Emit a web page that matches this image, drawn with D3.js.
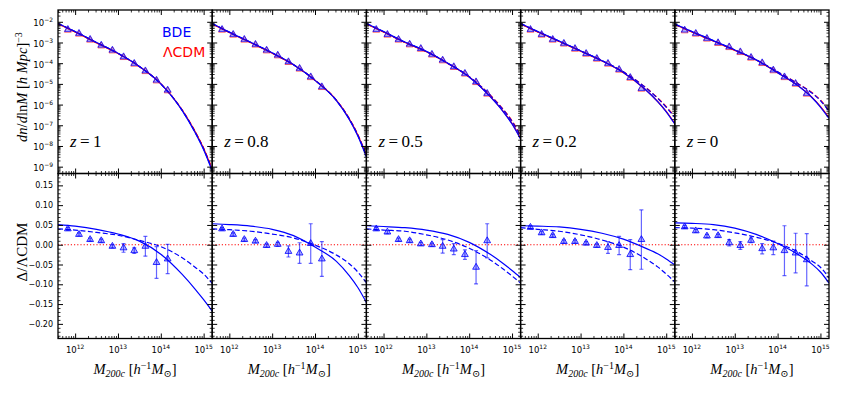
<!DOCTYPE html>
<html>
<head>
<meta charset="utf-8">
<script src="https://cdn.jsdelivr.net/npm/d3@7"></script>
<style>
  body { margin: 0; background: #fff; }
  text { font-family: "DejaVu Sans", sans-serif; }
  .serif { font-family: "Liberation Serif", "DejaVu Serif", serif; }
</style>
</head>
<body>
<svg id="chart" width="843" height="394"></svg>
<script>
  "use strict";

  // ---- data (masses as log10 M, n as log10 dn/dlnM) ----
  const redshiftLabels = ["1", "0.8", "0.5", "0.2", "0"];
  const massBins = [11.83, 12.09, 12.35, 12.61, 12.87, 13.13, 13.38, 13.64, 13.90, 14.16, 14.42, 14.68];
  const curveMass = [11.6, 12.0, 12.5, 13.0, 13.5, 14.0, 14.5, 14.8, 15.0, 15.2];

  // top row: theory curves, one row per redshift panel
  const bdeSolid = [
    [-2.08, -2.47, -3.00, -3.52, -4.16, -5.00, -6.29, -7.35, -8.18, -9.21],
    [-2.08, -2.50, -2.99, -3.50, -4.07, -4.83, -5.81, -6.72, -7.52, -8.54],
    [-2.08, -2.47, -2.98, -3.43, -4.00, -4.67, -5.64, -6.36, -6.94, -7.67],
    [-2.08, -2.47, -2.93, -3.40, -3.88, -4.45, -5.25, -5.86, -6.35, -6.94],
    [-2.11, -2.47, -2.91, -3.36, -3.84, -4.46, -5.13, -5.66, -6.12, -6.67]
  ];
  const lcdmSolid = [
    [-2.10, -2.49, -3.02, -3.53, -4.16, -4.99, -6.26, -7.30, -8.12, -9.13],
    [-2.10, -2.52, -3.01, -3.52, -4.08, -4.83, -5.79, -6.69, -7.47, -8.47],
    [-2.10, -2.49, -3.00, -3.45, -4.01, -4.67, -5.63, -6.34, -6.91, -7.63],
    [-2.10, -2.49, -2.95, -3.42, -3.89, -4.46, -5.25, -5.85, -6.33, -6.92],
    [-2.13, -2.49, -2.93, -3.38, -3.85, -4.46, -5.12, -5.64, -6.09, -6.63]
  ];
  const bdeDashed = [
    [-2.08, -2.47, -3.00, -3.52, -4.16, -5.00, -6.28, -7.33, -8.15, -9.17],
    [-2.08, -2.50, -2.99, -3.50, -4.07, -4.82, -5.80, -6.69, -7.48, -8.48],
    [-2.08, -2.47, -2.98, -3.43, -4.00, -4.65, -5.58, -6.27, -6.82, -7.53],
    [-2.08, -2.47, -2.93, -3.40, -3.87, -4.42, -5.15, -5.70, -6.13, -6.62],
    [-2.11, -2.47, -2.91, -3.36, -3.83, -4.42, -5.03, -5.44, -5.81, -6.34]
  ];
  const lcdmDashed = [
    [-2.10, -2.49, -3.01, -3.53, -4.17, -5.00, -6.26, -7.29, -8.10, -9.11],
    [-2.10, -2.52, -3.00, -3.51, -4.08, -4.82, -5.79, -6.67, -7.45, -8.44],
    [-2.10, -2.49, -3.00, -3.44, -4.01, -4.65, -5.56, -6.24, -6.78, -7.49],
    [-2.10, -2.49, -2.95, -3.41, -3.88, -4.42, -5.14, -5.68, -6.10, -6.58],
    [-2.13, -2.49, -2.93, -3.37, -3.84, -4.42, -5.02, -5.42, -5.78, -6.30]
  ];
  // top row: simulation points
  const simCounts = [
    [-2.37, -2.56, -2.85, -3.13, -3.37, -3.69, -4.01, -4.37, -4.82, -5.30],
    [-2.37, -2.61, -2.85, -3.09, -3.37, -3.61, -3.93, -4.25, -4.66, -5.14],
    [-2.37, -2.61, -2.85, -3.08, -3.29, -3.57, -3.85, -4.17, -4.49, -4.90, -5.46],
    [-2.37, -2.61, -2.85, -3.04, -3.29, -3.53, -3.77, -4.01, -4.30, -4.69, -5.22],
    [-2.40, -2.56, -2.80, -3.01, -3.21, -3.45, -3.72, -3.98, -4.33, -4.66, -4.98, -5.46]
  ];

  // bottom row: relative difference BDE vs LCDM
  const ratioSolid = [
    [0.051, 0.047, 0.039, 0.027, 0.009, -0.024, -0.075, -0.112, -0.139, -0.168],
    [0.053, 0.051, 0.047, 0.039, 0.023, -0.006, -0.042, -0.078, -0.108, -0.146],
    [0.048, 0.046, 0.043, 0.037, 0.026, 0.006, -0.025, -0.048, -0.065, -0.083],
    [0.048, 0.047, 0.045, 0.039, 0.029, 0.014, -0.008, -0.023, -0.036, -0.051],
    [0.055, 0.054, 0.051, 0.042, 0.026, 0.003, -0.026, -0.049, -0.069, -0.097]
  ];
  const ratioDashed = [
    [0.040, 0.037, 0.031, 0.024, 0.011, -0.005, -0.033, -0.057, -0.074, -0.098],
    [0.040, 0.038, 0.034, 0.027, 0.017, -0.001, -0.026, -0.048, -0.069, -0.096],
    [0.040, 0.037, 0.034, 0.025, 0.012, -0.009, -0.039, -0.062, -0.079, -0.097],
    [0.043, 0.039, 0.034, 0.025, 0.012, -0.006, -0.034, -0.056, -0.074, -0.094],
    [0.043, 0.042, 0.038, 0.030, 0.019, 0.004, -0.020, -0.041, -0.057, -0.084]
  ];
  const ratioSim = [
    [0.040, 0.026, 0.013, 0.010, -0.004, -0.008, -0.015, -0.004, -0.045, -0.036],
    [0.040, 0.026, 0.013, 0.009, -0.002, 0.001, -0.017, -0.021, 0.003, -0.036],
    [0.040, 0.032, 0.013, 0.010, 0.002, 0.000, -0.004, -0.011, -0.025, -0.057, 0.010],
    [0.044, 0.030, 0.023, 0.008, 0.008, 0.004, -0.002, -0.007, -0.002, -0.025, 0.013],
    [0.045, 0.035, 0.022, 0.023, 0.005, -0.002, 0.011, -0.010, -0.008, -0.015, -0.021, -0.038]
  ];
  const ratioErr = [
    [0.004, 0.004, 0.004, 0.004, 0.004, 0.011, 0.007, 0.025, 0.040, 0.037],
    [0.004, 0.004, 0.004, 0.004, 0.004, 0.005, 0.014, 0.026, 0.050, 0.044],
    [0.004, 0.004, 0.004, 0.004, 0.004, 0.004, 0.017, 0.014, 0.012, 0.042, 0.043],
    [0.004, 0.004, 0.004, 0.004, 0.004, 0.004, 0.004, 0.015, 0.023, 0.038, 0.075],
    [0.004, 0.004, 0.004, 0.004, 0.008, 0.010, 0.006, 0.013, 0.017, 0.063, 0.050, 0.066]
  ];

  const xMajor = [12, 13, 14, 15];
  const yTopMajor = [-9, -8, -7, -6, -5, -4, -3, -2];
  const yBotMajor = [-0.20, -0.15, -0.10, -0.05, 0.00, 0.05, 0.10, 0.15];

  // ---- layout ----
  const PANEL_LEFT = 58, PANEL_W = 154.2;
  const TOP_Y = 10, MID_Y = 173.5, BOT_Y = 338.5;
  const BLUE = "#0000ff", RED = "#ff0000";

  const svg = d3.select("#chart");

  const xScales = redshiftLabels.map((_, i) => d3.scaleLog()
    .domain([10 ** 11.6, 10 ** 15.2])
    .range([PANEL_LEFT + i * PANEL_W, PANEL_LEFT + (i + 1) * PANEL_W]));
  const yTop = d3.scaleLog().domain([10 ** -9.33, 10 ** -1.43]).range([MID_Y, TOP_Y]);
  const yBot = d3.scaleLinear().domain([-0.237, 0.18]).range([BOT_Y, MID_Y]);

  // minor tick positions
  const xMinor = [];
  for (let k = 11; k <= 15; k++) for (let m = 2; m <= 9; m++) {
    const v = m * 10 ** k;
    if (v > 10 ** 11.6 && v < 10 ** 15.2) xMinor.push(v);
  }
  const yTopMinor = [];
  for (let k = -10; k <= -2; k++) for (let m = 2; m <= 9; m++) {
    const v = m * 10 ** k;
    if (v > 10 ** -9.33 && v < 10 ** -1.43) yTopMinor.push(v);
  }
  const yBotMinor = d3.range(-23, 18).filter(v => v % 5 !== 0).map(v => v / 100);

  const defs = svg.append("defs");
  const tri = d3.symbol().type(d3.symbolTriangle).size(20);

  redshiftLabels.forEach((z, i) => {
    const x = xScales[i];
    const [x0, x1] = x.range();

    // clip paths
    defs.append("clipPath").attr("id", `clipTop${i}`)
      .append("rect").attr("x", x0).attr("y", TOP_Y).attr("width", x1 - x0).attr("height", MID_Y - TOP_Y);
    defs.append("clipPath").attr("id", `clipBot${i}`)
      .append("rect").attr("x", x0).attr("y", MID_Y).attr("width", x1 - x0).attr("height", BOT_Y - MID_Y);

    // ---- top panel: mass function ----
    const top = svg.append("g").attr("clip-path", `url(#clipTop${i})`);
    const lineTop = d3.line()
      .x(d => x(10 ** d[0]))
      .y(d => yTop(10 ** d[1]))
      .curve(d3.curveMonotoneX);
    const series = [
      [lcdmSolid[i], RED, null],
      [lcdmDashed[i], RED, "5,2.5"],
      [bdeSolid[i], BLUE, null],
      [bdeDashed[i], BLUE, "5,2.5"]
    ];
    series.forEach(([vals, col, dash]) => {
      top.append("path")
        .datum(curveMass.map((m, j) => [m, vals[j]]))
        .attr("d", lineTop)
        .attr("fill", "none")
        .attr("stroke", col)
        .attr("stroke-width", 1.2)
        .attr("stroke-dasharray", dash);
    });
    const pts = simCounts[i].map((v, j) => [massBins[j], v]);
    top.selectAll(".simRed")
      .data(pts)
      .enter()
      .append("path")
      .attr("d", tri)
      .attr("transform", d => `translate(${x(10 ** d[0])},${yTop(10 ** d[1]) + 0.8})`)
      .attr("fill", "none")
      .attr("stroke", RED)
      .attr("stroke-opacity", 0.6)
      .attr("stroke-width", 1);
    top.selectAll(".simBlue")
      .data(pts)
      .enter()
      .append("path")
      .attr("d", tri)
      .attr("transform", d => `translate(${x(10 ** d[0])},${yTop(10 ** d[1])})`)
      .attr("fill", BLUE)
      .attr("fill-opacity", 0.3)
      .attr("stroke", BLUE)
      .attr("stroke-opacity", 0.7)
      .attr("stroke-width", 1);

    // ---- bottom panel: ratio ----
    const bot = svg.append("g").attr("clip-path", `url(#clipBot${i})`);
    bot.append("line")
      .attr("x1", x0).attr("x2", x1)
      .attr("y1", yBot(0)).attr("y2", yBot(0))
      .attr("stroke", RED)
      .attr("stroke-width", 1.1)
      .attr("stroke-dasharray", "1.2,2");
    const lineBot = d3.line()
      .x(d => x(10 ** d[0]))
      .y(d => yBot(d[1]))
      .curve(d3.curveMonotoneX);
    [[ratioSolid[i], null], [ratioDashed[i], "5,2.5"]].forEach(([vals, dash]) => {
      bot.append("path")
        .datum(curveMass.map((m, j) => [m, vals[j]]))
        .attr("d", lineBot)
        .attr("fill", "none")
        .attr("stroke", BLUE)
        .attr("stroke-width", 1.2)
        .attr("stroke-dasharray", dash);
    });
    const rpts = ratioSim[i].map((v, j) => ({ m: massBins[j], v: v, e: ratioErr[i][j] }));
    const eb = bot.selectAll(".err")
      .data(rpts)
      .enter()
      .append("g")
      .attr("stroke", BLUE)
      .attr("stroke-opacity", 0.6)
      .attr("stroke-width", 1.2);
    eb.append("line")
      .attr("x1", d => x(10 ** d.m)).attr("x2", d => x(10 ** d.m))
      .attr("y1", d => yBot(d.v - d.e)).attr("y2", d => yBot(d.v + d.e));
    eb.append("line")
      .attr("x1", d => x(10 ** d.m) - 2).attr("x2", d => x(10 ** d.m) + 2)
      .attr("y1", d => yBot(d.v - d.e)).attr("y2", d => yBot(d.v - d.e));
    eb.append("line")
      .attr("x1", d => x(10 ** d.m) - 2).attr("x2", d => x(10 ** d.m) + 2)
      .attr("y1", d => yBot(d.v + d.e)).attr("y2", d => yBot(d.v + d.e));
    bot.selectAll(".ratioPt")
      .data(rpts)
      .enter()
      .append("path")
      .attr("d", tri)
      .attr("transform", d => `translate(${x(10 ** d.m)},${yBot(d.v)})`)
      .attr("fill", BLUE)
      .attr("fill-opacity", 0.3)
      .attr("stroke", BLUE)
      .attr("stroke-opacity", 0.8)
      .attr("stroke-width", 1);

    // ---- frames and inward ticks ----
    [[TOP_Y, MID_Y, yTop, yTopMajor.map(v => 10 ** v), yTopMinor],
     [MID_Y, BOT_Y, yBot, yBotMajor, yBotMinor]].forEach(([ya, yb, y, yMaj, yMin]) => {
      const g = svg.append("g").attr("color", "#000");
      [[xMajor.map(v => 10 ** v), 5, 1], [xMinor, 2.5, 0.8]].forEach(([vals, len, w]) => {
        g.append("g").attr("transform", `translate(0,${yb})`)
          .call(d3.axisBottom(x).tickValues(vals).tickSizeInner(-len).tickSizeOuter(0).tickFormat(""))
          .selectAll("line").attr("stroke-width", w);
        g.append("g").attr("transform", `translate(0,${ya})`)
          .call(d3.axisTop(x).tickValues(vals).tickSizeInner(-len).tickSizeOuter(0).tickFormat(""))
          .selectAll("line").attr("stroke-width", w);
      });
      [[yMaj, 5, 1], [yMin, 2.5, 0.8]].forEach(([vals, len, w]) => {
        g.append("g").attr("transform", `translate(${x0},0)`)
          .call(d3.axisLeft(y).tickValues(vals).tickSizeInner(-len).tickSizeOuter(0).tickFormat(""))
          .selectAll("line").attr("stroke-width", w);
        g.append("g").attr("transform", `translate(${x1},0)`)
          .call(d3.axisRight(y).tickValues(vals).tickSizeInner(-len).tickSizeOuter(0).tickFormat(""))
          .selectAll("line").attr("stroke-width", w);
      });
      g.selectAll(".domain").remove();
      g.selectAll("text").remove();
      svg.append("rect")
        .attr("x", x0).attr("y", ya)
        .attr("width", x1 - x0).attr("height", yb - ya)
        .attr("fill", "none")
        .attr("stroke", "#000")
        .attr("stroke-width", 1.3);
    });

    // x tick labels (bottom row)
    xMajor.forEach(e => {
      const t = svg.append("text")
        .attr("x", x(10 ** e))
        .attr("y", 352.5)
        .attr("text-anchor", "middle")
        .attr("font-size", 8.5);
      t.append("tspan").text("10");
      t.append("tspan").attr("dy", -4).attr("font-size", 6).text(e);
    });

    // redshift label
    const zl = svg.append("text")
      .attr("class", "serif")
      .attr("x", x0 + 12)
      .attr("y", 147)
      .attr("font-size", 17);
    zl.append("tspan").attr("font-style", "italic").text("z");
    zl.append("tspan").text("\u2009=\u2009" + z);

    // x axis title
    const xt = svg.append("text")
      .attr("class", "serif")
      .attr("x", (x0 + x1) / 2)
      .attr("y", 374)
      .attr("text-anchor", "middle")
      .attr("font-size", 14.5);
    xt.append("tspan").attr("font-style", "italic").text("M");
    xt.append("tspan").attr("font-style", "italic").attr("font-size", 10).attr("dy", 3).text("200c");
    xt.append("tspan").attr("dy", -3).text(" [");
    xt.append("tspan").attr("font-style", "italic").text("h");
    xt.append("tspan").attr("font-size", 10).attr("dy", -5).text("−1");
    xt.append("tspan").attr("dy", 5).attr("font-style", "italic").text("M");
    xt.append("tspan").attr("font-size", 10).attr("dy", 3).text("⊙");
    xt.append("tspan").attr("dy", -3).text("]");
  });

  // y tick labels (first column)
  yTopMajor.forEach(e => {
    const t = svg.append("text")
      .attr("x", PANEL_LEFT - 5)
      .attr("y", yTop(10 ** e) + 4.5)
      .attr("text-anchor", "end")
      .attr("font-size", 8.5);
    t.append("tspan").text("10");
    t.append("tspan").attr("dy", -4).attr("font-size", 6).text("−" + (-e));
  });
  yBotMajor.forEach(v => {
    svg.append("text")
      .attr("x", PANEL_LEFT - 5)
      .attr("y", yBot(v) + 3)
      .attr("text-anchor", "end")
      .attr("font-size", 8)
      .text(d3.format(".2f")(v).replace("-", "−"));
  });

  // y axis titles
  const yt = svg.append("text")
    .attr("class", "serif")
    .attr("transform", "translate(27,87) rotate(-90)")
    .attr("text-anchor", "middle")
    .attr("font-size", 14.5);
  yt.append("tspan").attr("font-style", "italic").text("dn");
  yt.append("tspan").text("/");
  yt.append("tspan").attr("font-style", "italic").text("d");
  yt.append("tspan").text("ln");
  yt.append("tspan").attr("font-style", "italic").text("M");
  yt.append("tspan").text(" [");
  yt.append("tspan").attr("font-style", "italic").text("h  Mpc");
  yt.append("tspan").text("]");
  yt.append("tspan").attr("font-size", 10).attr("dy", -5).text("−3");

  svg.append("text")
    .attr("class", "serif")
    .attr("transform", "translate(27,252) rotate(-90)")
    .attr("text-anchor", "middle")
    .attr("font-size", 15)
    .text("Δ/ΛCDM");

  // legend
  svg.append("text")
    .attr("x", 162).attr("y", 37)
    .attr("font-size", 14)
    .attr("fill", BLUE)
    .text("BDE");
  svg.append("text")
    .attr("x", 163).attr("y", 57)
    .attr("font-size", 14)
    .attr("fill", RED)
    .text("ΛCDM");
</script>
</body>
</html>
